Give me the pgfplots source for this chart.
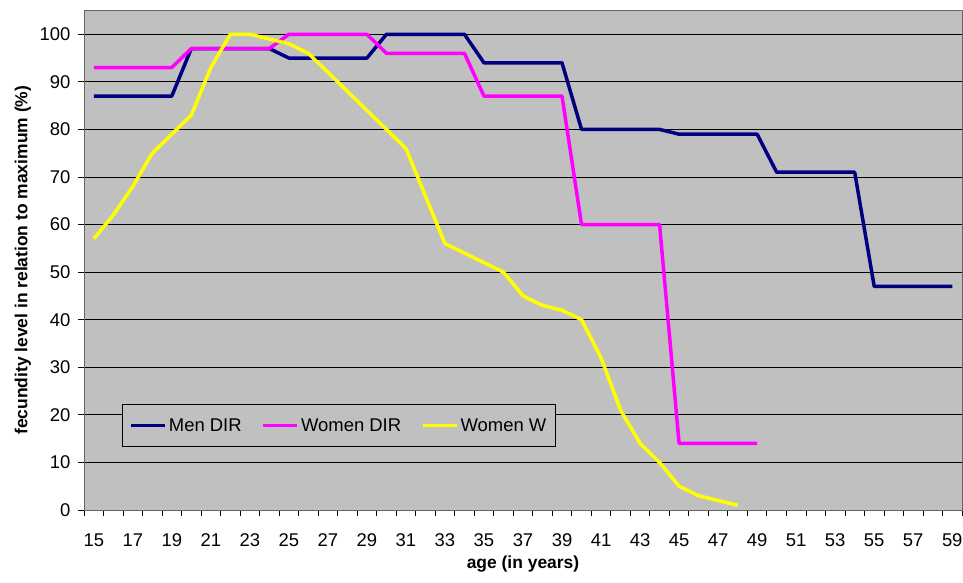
\documentclass[border=0pt]{standalone}
\usepackage{pgfplots}
\pgfplotsset{compat=1.18}
\usepackage{fontspec}
\setmainfont{Liberation Sans}
\definecolor{plotbg}{RGB}{192,192,192}
\definecolor{mennavy}{RGB}{0,0,128}
\definecolor{womenmag}{RGB}{255,0,255}
\definecolor{womenyel}{RGB}{255,255,0}

\begin{document}
\begin{tikzpicture}
\begin{axis}[
    scale only axis,
    width=878bp, height=499.5bp,
    xmin=14.5, xmax=59.5, ymin=0, ymax=105,
    axis background/.style={fill=plotbg},
    axis line style={black!60},
    tick pos=left,
    tick align=outside,
    major tick length=6bp,
    tick style={black, line width=0.8bp},
    xtick={14.5,15.5,...,59.5},
    xticklabels={},
    extra x ticks={15,17,...,59},
    extra x tick style={major tick length=0bp},
    ytick={0,10,...,100},
    ymajorgrids,
    grid style={black, line width=0.8bp},
    /pgf/number format/assume math mode=true,
    ticklabel style={font=\fontsize{18.5}{18.5}\selectfont},
    xticklabel style={yshift=-20bp},
    yticklabel style={xshift=-4bp},
    xlabel={age (in years)},
    ylabel={fecundity level in relation to maximum (\%)},
    label style={font=\fontsize{17.5}{17.5}\selectfont\bfseries},
    xlabel style={at={(axis description cs:0.5,-0.108)}, anchor=center},
    ylabel style={at={(axis description cs:-0.0695,0.5)}, anchor=center},
    legend columns=3,
    legend style={at={(axis description cs:0.0433,0.212)}, anchor=north west,
        fill=plotbg, draw=black, line width=0.8bp,
        font=\fontsize{18.5}{18.5}\selectfont, inner xsep=7bp, inner ysep=12bp,
        /tikz/every even column/.append style={column sep=18bp}},
    legend image code/.code={\draw[#1] (0bp,0bp) -- (34bp,0bp);},
    every axis plot/.append style={line width=3.5bp, line join=round},
]
\addplot[mennavy] coordinates {
    (15,87) (16,87) (17,87) (18,87) (19,87)
    (20,97) (21,97) (22,97) (23,97) (24,97)
    (25,95) (26,95) (27,95) (28,95) (29,95)
    (30,100) (31,100) (32,100) (33,100) (34,100)
    (35,94) (36,94) (37,94) (38,94) (39,94)
    (40,80) (41,80) (42,80) (43,80) (44,80)
    (45,79) (46,79) (47,79) (48,79) (49,79)
    (50,71) (51,71) (52,71) (53,71) (54,71)
    (55,47) (56,47) (57,47) (58,47) (59,47)
};
\addlegendentry{Men DIR}
\addplot[womenmag] coordinates {
    (15,93) (16,93) (17,93) (18,93) (19,93)
    (20,97) (21,97) (22,97) (23,97) (24,97)
    (25,100) (26,100) (27,100) (28,100) (29,100)
    (30,96) (31,96) (32,96) (33,96) (34,96)
    (35,87) (36,87) (37,87) (38,87) (39,87)
    (40,60) (41,60) (42,60) (43,60) (44,60)
    (45,14) (46,14) (47,14) (48,14) (49,14)
};
\addlegendentry{Women DIR}
\addplot[womenyel] coordinates {
    (15,57) (16,62) (17,68) (18,75) (19,79)
    (20,83) (21,93) (22,100) (23,100) (24,99)
    (25,98) (26,96) (27,92) (28,88) (29,84)
    (30,80) (31,76) (32,66) (33,56) (34,54)
    (35,52) (36,50) (37,45) (38,43) (39,42)
    (40,40) (41,32) (42,21) (43,14) (44,10)
    (45,5) (46,3) (47,2) (48,1)
};
\addlegendentry{Women W}
\end{axis}
\pgfresetboundingbox
\path[use as bounding box] (current axis.south west) ++(-84bp,-73bp) rectangle ([shift={(1bp,10.5bp)}]current axis.north east);
\end{tikzpicture}
\end{document}
